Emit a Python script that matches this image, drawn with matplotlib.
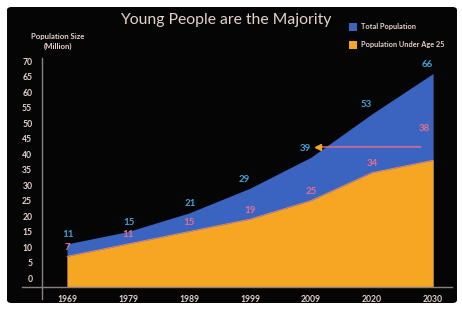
import matplotlib.pyplot as plt
from matplotlib.patches import FancyBboxPatch, Rectangle

plt.rcParams['font.family'] = ['Lato', 'DejaVu Sans']

# --- data ---
years = ['1969', '1979', '1989', '1999', '2009', '2020', '2030']
total = [11, 15, 21, 29, 39, 53, 66]
under25 = [7, 11, 15, 19, 25, 34, 38]
yticks = list(range(0, 75, 5))

# --- colors ---
bg = '#050505'
c_total = '#3a64c0'
c_under = '#f6a623'
c_txt = '#e6d2cc'
c_lab_total = '#3fa2d8'
c_lab_under = '#e8708c'
c_axis = '#8a8080'

W, H = 462, 309
fig = plt.figure(figsize=(W / 100, H / 100), dpi=100)
fig.patch.set_facecolor('white')


def fx(px):
    return px / W


def fy(py):
    return 1 - py / H


# black rounded panel
fig.patches.append(FancyBboxPatch((fx(7), fy(303)), fx(450), 296 / H,
                                  boxstyle='round,pad=0,rounding_size=0.01',
                                  transform=fig.transFigure, fc=bg, ec='none', zorder=-5))

# axes: left spine at x=42px, top 58px, bottom (x-axis line) 287px, right 452px
ax = fig.add_axes([fx(42), fy(287), fx(452 - 42), (287 - 58) / H], zorder=2)
ax.set_facecolor('none')

x = list(range(len(years)))
ybase = -2.9
ax.fill_between(x, ybase, total, color=c_total, lw=0, zorder=1)
ax.fill_between(x, ybase, under25, color=c_under, lw=0, zorder=2)
ax.plot(x, under25, color='#f08a6a', lw=0.6, zorder=3)

ax.set_xlim(-0.41, 6.31)
ax.set_ylim(ybase, 71.0)

for s in ['top', 'right', 'bottom']:
    ax.spines[s].set_visible(False)
ax.spines['left'].set_color(c_axis)
ax.spines['left'].set_linewidth(1.0)

# x-axis line crossing the y-axis, y-axis poking below
ax.plot([-0.74, 6.31], [ybase, ybase], color=c_axis, lw=1.0, clip_on=False, zorder=4)
ax.plot([-0.41, -0.41], [ybase, ybase - 3.8], color=c_axis, lw=1.0, clip_on=False, zorder=4)

ax.set_yticks(yticks)
ax.set_yticklabels([str(v) for v in yticks], color=c_txt, fontsize=6.2, fontweight='bold')
ax.tick_params(axis='y', length=0, pad=7)
ax.set_xticks(x)
ax.set_xticklabels(years, color=c_txt, fontsize=6.2, fontweight='bold')
ax.tick_params(axis='x', length=0, pad=5.5)

# value labels
for i, (t, u) in enumerate(zip(total, under25)):
    dx = 1 if i < 3 else -6
    ax.annotate(str(t), (i, t), xytext=(dx, 9), textcoords='offset pixels',
                ha='center', va='center', color=c_lab_total, fontsize=7, fontweight='bold', zorder=5)
    if i < len(years) - 1:
        ax.annotate(str(u), (i, u), xytext=(0, 9), textcoords='offset pixels',
                    ha='center', va='center', color=c_lab_under, fontsize=7, fontweight='bold', zorder=5)

# 2030 youth label with arrow back to 2009
ax.annotate(str(under25[-1]), (6, under25[-1]), xytext=(-9, 32), textcoords='offset pixels',
            ha='center', va='center', color=c_lab_under, fontsize=7, fontweight='bold', zorder=5)
ax.annotate('', xy=(4.1, 42.3), xytext=(5.8, 42.3),
            arrowprops=dict(arrowstyle='-', color=c_lab_under, lw=1.0,
                            shrinkA=0, shrinkB=0), zorder=5)
ax.plot([4.12], [42.3], marker='<', color=c_under, ms=5, zorder=6)

# title
fig.text(fx(226), fy(20), 'Young People are the Majority', ha='center', va='center',
         color=c_txt, fontsize=11.3)

# y label
fig.text(fx(58), fy(37), 'Population Size', ha='center', va='center', color=c_txt, fontsize=5.6, fontweight='bold')
fig.text(fx(58), fy(46), '(Million)', ha='center', va='center', color=c_txt, fontsize=5.6, fontweight='bold')

# legend
for py, col, lab in [(27, c_total, 'Total Population'), (45, c_under, 'Population Under Age 25')]:
    fig.patches.append(Rectangle((fx(349), fy(py + 4)), fx(8), 8 / H, transform=fig.transFigure,
                                 fc=col, ec='none', zorder=3))
    fig.text(fx(361), fy(py), lab, ha='left', va='center', color=c_txt, fontsize=5.3, fontweight='bold')

fig.savefig('out.png', dpi=100, facecolor='white')
